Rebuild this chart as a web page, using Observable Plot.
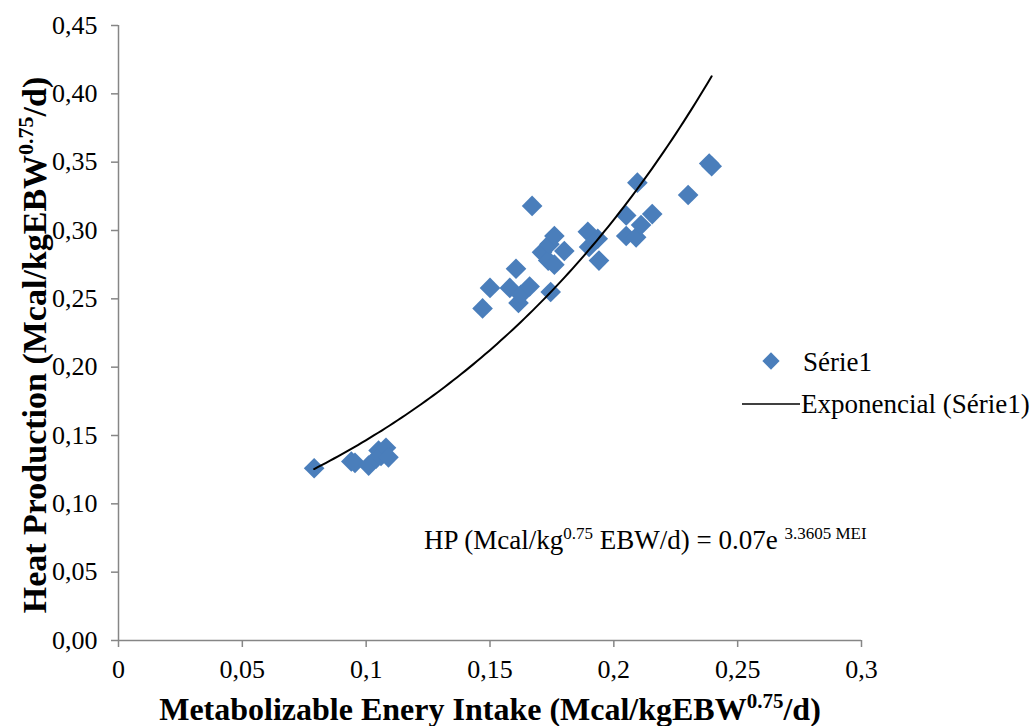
<!DOCTYPE html>
<html>
<head>
<meta charset="utf-8">
<script src="https://cdn.jsdelivr.net/npm/d3@7"></script>
<script src="https://cdn.jsdelivr.net/npm/@observablehq/plot@0.6"></script>
<style>
  html, body { margin: 0; padding: 0; background: white; }
  #wrap { position: relative; width: 1031px; height: 726px; overflow: hidden; font-family: "Liberation Serif", "Times New Roman", serif; }
  #eq { position: absolute; left: 424px; top: 527px; font-size: 27px; line-height: 27px; white-space: nowrap; color: black; }
  #eq sup { font-size: 17px; line-height: 0; vertical-align: 0; position: relative; top: -10px; }
</style>
</head>
<body>
<div id="wrap"><div id="eq">HP (Mcal/kg<sup>0.75</sup> EBW/d) = 0.07e <sup>3.3605 MEI</sup></div></div>
<script>
// Metabolizable Energy Intake (Mcal/kgEBW^0.75/d)
const mei = [0.079, 0.094, 0.0955, 0.101, 0.104, 0.105, 0.106, 0.108, 0.109,
  0.147, 0.150, 0.158, 0.1605, 0.1615, 0.1625, 0.166, 0.167,
  0.171, 0.1735, 0.1745, 0.174, 0.176, 0.176, 0.180,
  0.1895, 0.190, 0.1935, 0.194,
  0.205, 0.205, 0.209, 0.2095, 0.211, 0.2155,
  0.230, 0.2385, 0.2395];
// Heat Production (Mcal/kgEBW^0.75/d)
const hp = [0.126, 0.131, 0.130, 0.128, 0.133, 0.139, 0.135, 0.141, 0.134,
  0.243, 0.258, 0.258, 0.272, 0.247, 0.253, 0.259, 0.318,
  0.284, 0.278, 0.255, 0.290, 0.296, 0.275, 0.285,
  0.299, 0.288, 0.294, 0.278,
  0.311, 0.296, 0.295, 0.335, 0.304, 0.312,
  0.326, 0.349, 0.347];
const xTicks = [0, 0.05, 0.1, 0.15, 0.2, 0.25, 0.3];
const yTicks = [0, 0.05, 0.1, 0.15, 0.2, 0.25, 0.3, 0.35, 0.4, 0.45];
const seriesName = "Série1";
const trendName = "Exponencial (Série1)";

const data = mei.map((x, i) => ({x, y: hp[i]}));

// Exponential trendline (least squares on ln y, as a spreadsheet does)
const mx = d3.mean(data, d => d.x);
const my = d3.mean(data, d => Math.log(d.y));
const b = d3.sum(data, d => (d.x - mx) * (Math.log(d.y) - my)) / d3.sum(data, d => (d.x - mx) ** 2);
const a = Math.exp(my - b * mx);
const [x0, x1] = d3.extent(mei);
const trend = d3.range(0, 101).map(i => {
  const x = x0 + (x1 - x0) * i / 100;
  return {x, y: a * Math.exp(b * x)};
});

const fmtX = d => d3.format(".2~f")(d).replace(".", ",");
const fmtY = d => d3.format(".2f")(d).replace(".", ",");
const blue = "#4a7ebb";
const gray = "#868686";
const serif = "'Liberation Serif', 'Times New Roman', serif";

const chart = Plot.plot({
  width: 1031,
  height: 726,
  marginLeft: 118,
  marginRight: 170,
  marginTop: 25,
  marginBottom: 86,
  style: {fontFamily: serif, fontSize: "26px", background: "white", color: "black"},
  x: {domain: [0, 0.3]},
  y: {domain: [0, 0.45]},
  marks: [
    Plot.ruleY([0], {stroke: gray, strokeWidth: 1.5}),
    Plot.ruleX([0], {stroke: gray, strokeWidth: 1.5}),
    Plot.axisX({ticks: xTicks, tickSize: 7, tickPadding: 12, tickFormat: fmtX, stroke: gray, fill: "black", strokeWidth: 1.5, fontSize: 26, label: null}),
    Plot.axisY({ticks: yTicks, tickSize: 7, tickPadding: 14, tickFormat: fmtY, stroke: gray, fill: "black", strokeWidth: 1.5, fontSize: 26, label: null}),
    Plot.dot(data, {x: "x", y: "y", symbol: "diamond2", r: 9.3, fill: blue}),
    Plot.line(trend, {x: "x", y: "y", stroke: "black", strokeWidth: 2})
  ]
});

document.getElementById("wrap").prepend(chart);

const svg = d3.select(chart);
// Axis titles
const yt = svg.append("text")
  .attr("transform", "translate(46,345) rotate(-90)")
  .attr("text-anchor", "middle")
  .attr("font-family", serif)
  .attr("font-weight", "bold").attr("font-size", 34).attr("fill", "black");
yt.append("tspan").text("Heat Production (Mcal/kgEBW");
yt.append("tspan").attr("font-size", 22).attr("dy", -13).text("0.75");
yt.append("tspan").attr("dy", 13).text("/d)");

const xt = svg.append("text")
  .attr("x", 490).attr("y", 720)
  .attr("text-anchor", "middle")
  .attr("font-family", serif)
  .attr("font-weight", "bold").attr("font-size", 32).attr("fill", "black");
xt.append("tspan").text("Metabolizable Enery Intake (Mcal/kgEBW");
xt.append("tspan").attr("font-size", 21).attr("dy", -12).text("0.75");
xt.append("tspan").attr("dy", 12).text("/d)");

// Legend
const lg = svg.append("g").attr("font-family", serif).attr("font-size", 27).attr("fill", "black").attr("text-anchor", "start");
lg.append("path").attr("transform", "translate(771,361)").attr("d", d3.symbol(d3.symbolDiamond2, 190)()).attr("fill", blue);
lg.append("text").attr("x", 803).attr("y", 362).attr("dy", "0.35em").attr("text-anchor", "start").text(seriesName);
lg.append("line").attr("x1", 742).attr("x2", 800).attr("y1", 404).attr("y2", 404).attr("stroke", "black").attr("stroke-width", 1.5);
lg.append("text").attr("x", 801).attr("y", 404).attr("dy", "0.35em").attr("text-anchor", "start").text(trendName);
</script>
</body>
</html>
